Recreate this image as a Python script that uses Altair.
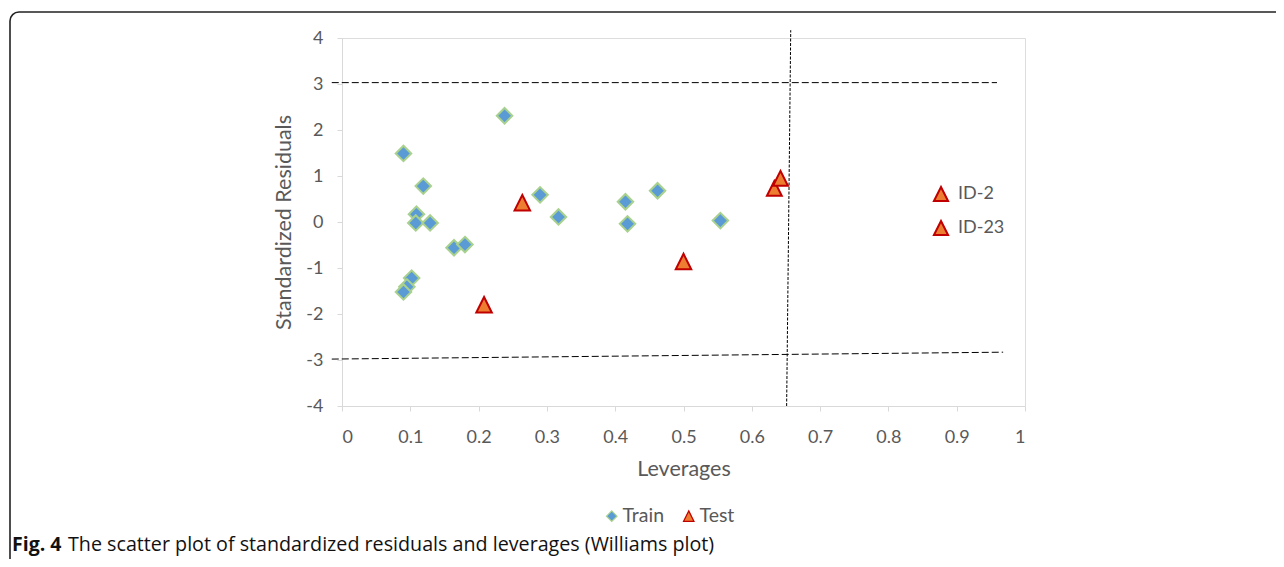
import altair as alt
import pandas as pd

# ---- data ----
train_lev = [0.238, 0.090, 0.119, 0.109, 0.108, 0.129, 0.164, 0.180, 0.102, 0.095,
             0.090, 0.290, 0.317, 0.415, 0.462, 0.418, 0.554]
train_res = [2.31, 1.49, 0.78, 0.17, -0.02, -0.02, -0.56, -0.49, -1.22, -1.41,
             -1.52, 0.59, 0.11, 0.44, 0.68, -0.04, 0.03]
test_lev = [0.208, 0.264, 0.500]
test_res = [-1.80, 0.42, -0.86]
id_labels = ["ID-2", "ID-23"]
id_lev = [0.633, 0.642]
id_res = [0.73, 0.95]

# dashed limit lines (+/-3 residual band and warning leverage h*)
hline_x = [-0.015, -0.015]
hline_x2 = [0.959, 0.968]
hline_y = [3.03, -2.98]
hline_y2 = [3.03, -2.83]
vline_x = [0.651]
vline_x2 = [0.657]
vline_y = [-4.0]
vline_y2 = [4.17]

x_ticks = [0, 0.1, 0.2, 0.3, 0.4, 0.5, 0.6, 0.7, 0.8, 0.9, 1]
y_ticks = [-4, -3, -2, -1, 0, 1, 2, 3, 4]
series_names = ["Train", "Test"]

caption_bold = "Fig. 4"
caption_text = "The scatter plot of standardized residuals and leverages (Williams plot)"

FONT = "Lato"
GREY = "#595959"
DIAMOND = "M0,-1L1,0L0,1L-1,0Z"
TRIANGLE = "M0,-1L1,1L-1,1Z"
BLUE, GREEN, ORANGE, RED = "#5B9BD5", "#A9D18E", "#ED7D31", "#C00000"

main_df = pd.DataFrame({
    "lev": train_lev + test_lev,
    "res": train_res + test_res,
    "series": ["Train"] * len(train_lev) + ["Test"] * len(test_lev),
})
id_df = pd.DataFrame({"lev": id_lev, "res": id_res, "label": id_labels})
h_df = pd.DataFrame({"x": hline_x, "x2": hline_x2, "y": hline_y, "y2": hline_y2})
v_df = pd.DataFrame({"x": vline_x, "x2": vline_x2, "y": vline_y, "y2": vline_y2})

xscale = alt.Scale(domain=[0, 1], nice=False, zero=False)
yscale = alt.Scale(domain=[-4, 4], nice=False, zero=False)

xaxis = alt.Axis(values=x_ticks, labelExpr="toString(datum.value)", title="Leverages",
                 grid=False, domainColor="#D9D9D9", tickColor="#D9D9D9", tickSize=5,
                 labelFont=FONT, labelFontSize=18, labelColor=GREY, labelPadding=17,
                 titleFont=FONT, titleFontSize=21.5, titleColor=GREY, titleFontWeight="normal",
                 titlePadding=12)
yaxis = alt.Axis(values=y_ticks, labelExpr="toString(datum.value)", title="Standardized Residuals",
                 grid=False, domainColor="#D9D9D9", tickColor="#D9D9D9", tickSize=5,
                 labelFont=FONT, labelFontSize=18, labelColor=GREY, labelPadding=14,
                 titleFont=FONT, titleFontSize=21.5, titleColor=GREY, titleFontWeight="normal",
                 titlePadding=10)

points = alt.Chart(main_df).mark_point(filled=True, size=240, strokeWidth=2, opacity=1).encode(
    x=alt.X("lev:Q", scale=xscale, axis=xaxis),
    y=alt.Y("res:Q", scale=yscale, axis=yaxis),
    shape=alt.Shape("series:N", scale=alt.Scale(domain=series_names, range=[DIAMOND, TRIANGLE]),
                    legend=alt.Legend(title=None, orient="none", direction="horizontal",
                                      legendX=260, legendY=468, symbolSize=110,
                                      symbolStrokeWidth=1.2, labelFont=FONT, labelFontSize=19.5,
                                      labelColor=GREY, columnPadding=14, labelOffset=1)),
    fill=alt.Fill("series:N", scale=alt.Scale(domain=series_names, range=[BLUE, ORANGE]), legend=None),
    stroke=alt.Stroke("series:N", scale=alt.Scale(domain=series_names, range=[GREEN, RED]), legend=None),
)

ids = alt.Chart(id_df).mark_point(filled=True, size=220, strokeWidth=2, opacity=1).encode(
    x="lev:Q",
    y="res:Q",
    shape=alt.Shape("label:N", scale=alt.Scale(domain=id_labels, range=[TRIANGLE, TRIANGLE]),
                    legend=alt.Legend(title=None, orient="none", direction="vertical",
                                      legendX=590, legendY=147, symbolSize=200,
                                      symbolStrokeWidth=2, labelFont=FONT, labelFontSize=18,
                                      labelColor=GREY, rowPadding=10, labelOffset=8)),
    fill=alt.Fill("label:N", scale=alt.Scale(domain=id_labels, range=[ORANGE, ORANGE]), legend=None),
    stroke=alt.Stroke("label:N", scale=alt.Scale(domain=id_labels, range=[RED, RED]), legend=None),
)

hlines = alt.Chart(h_df).mark_rule(color="black", strokeWidth=1, strokeDash=[7, 3]).encode(
    x="x:Q", x2="x2:Q", y="y:Q", y2="y2:Q")
vlines = alt.Chart(v_df).mark_rule(color="black", strokeWidth=1, strokeDash=[3, 1.5]).encode(
    x="x:Q", x2="x2:Q", y="y:Q", y2="y2:Q")

frame = alt.Chart(pd.DataFrame({"k": [0]})).mark_rect(
    fillOpacity=0, stroke="#222222", strokeWidth=1.6, cornerRadius=9).encode(
    x=alt.value(-332), x2=alt.value(1000), y=alt.value(-26), y2=alt.value(530))

cap1 = alt.Chart(pd.DataFrame({"t": [caption_bold]})).mark_text(
    align="left", baseline="alphabetic", font="Open Sans", fontSize=19.5, fontWeight="bold",
    color="#111111").encode(text="t:N", x=alt.value(-330), y=alt.value(513))
cap2 = alt.Chart(pd.DataFrame({"t": [caption_text]})).mark_text(
    align="left", baseline="alphabetic", font="Open Sans", fontSize=19.7,
    color="#111111").encode(text="t:N", x=alt.value(-274), y=alt.value(513))

main = alt.layer(hlines, vlines, points)
chart = alt.layer(main, ids, frame, cap1, cap2).resolve_scale(
    shape="independent", fill="independent", stroke="independent"
).properties(
    width=683, height=368,
    autosize=alt.AutoSizeParams(type="none"),
    padding={"left": 334, "top": 30, "right": 251, "bottom": 153},
).configure_view(stroke=None).configure(background="white")

chart.save("out.html", embed_options={"renderer": "svg", "actions": False})
